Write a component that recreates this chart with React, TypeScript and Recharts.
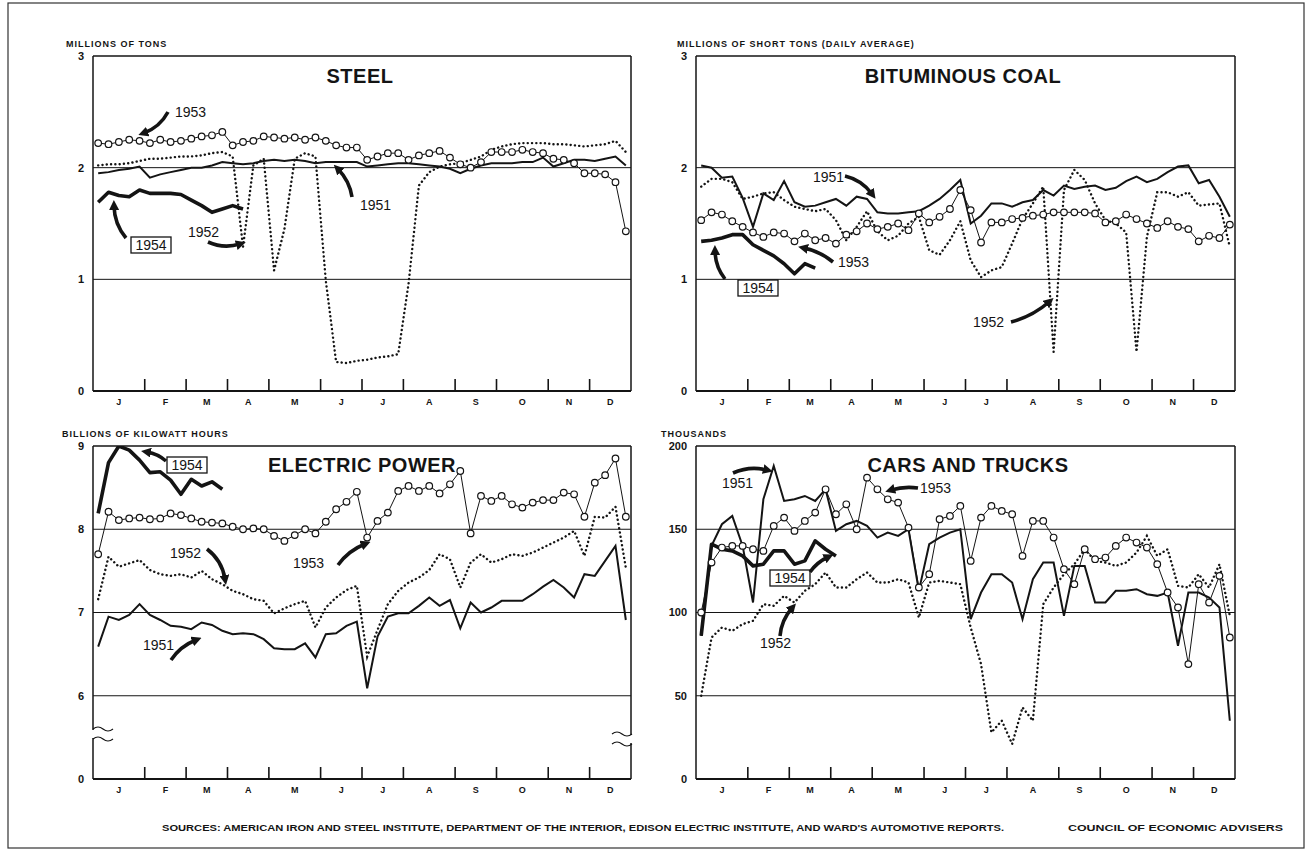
import React from 'react';
import { LineChart, Line, XAxis, YAxis, ReferenceLine } from 'recharts';

const FONT = '"Liberation Sans", Arial, sans-serif';
const INK = '#141414';

// month letters and the week where each month starts (52 weeks)
const MONTHS = ['J', 'F', 'M', 'A', 'M', 'J', 'J', 'A', 'S', 'O', 'N', 'D'];
const MONTH_STARTS = [0, 5, 9, 13, 17, 22, 26, 30, 35, 39, 44, 48, 52];
const MONTH_CENTERS = MONTHS.map((_, i) => (MONTH_STARTS[i] + MONTH_STARTS[i + 1]) / 2);
const MONTH_BOUNDS = MONTH_STARTS.slice(1, -1);
const WEEKS = Array.from({ length: 52 }, (_, i) => i + 0.5);

// STEEL, millions of tons
const steel1951 = [1.95, 1.96, 1.98, 1.99, 2.01, 1.91, 1.94, 1.96, 1.98, 2.0, 2.0, 2.02, 2.05, 2.04, 2.03, 2.04, 2.06, 2.07, 2.06, 2.07, 2.06, 2.04, 2.05, 2.05, 2.05, 2.05, 2.01, 2.02, 2.03, 2.04, 2.04, 2.03, 2.02, 2.01, 1.99, 1.95, 1.99, 2.02, 2.04, 2.04, 2.04, 2.05, 2.05, 2.09, 2.01, 2.04, 2.07, 2.07, 2.06, 2.08, 2.1, 2.02];
const steel1952 = [2.02, 2.03, 2.03, 2.04, 2.06, 2.08, 2.08, 2.09, 2.1, 2.1, 2.11, 2.13, 2.14, 2.1, 1.29, 2.02, 2.08, 1.08, 1.45, 2.08, 2.13, 2.1, 0.99, 0.26, 0.25, 0.27, 0.28, 0.3, 0.31, 0.33, 0.96, 1.84, 1.96, 2.01, 2.03, 2.04, 2.07, 2.1, 2.16, 2.19, 2.21, 2.22, 2.22, 2.22, 2.21, 2.21, 2.2, 2.19, 2.2, 2.21, 2.24, 2.14];
const steel1953 = [2.22, 2.21, 2.23, 2.25, 2.24, 2.22, 2.25, 2.23, 2.24, 2.26, 2.28, 2.29, 2.32, 2.2, 2.23, 2.24, 2.28, 2.27, 2.26, 2.27, 2.25, 2.27, 2.24, 2.2, 2.18, 2.18, 2.07, 2.1, 2.13, 2.13, 2.07, 2.11, 2.13, 2.15, 2.09, 2.03, 2.0, 2.05, 2.14, 2.14, 2.14, 2.16, 2.14, 2.13, 2.08, 2.07, 2.04, 1.95, 1.95, 1.94, 1.87, 1.43];
const steel1954 = [1.69, 1.78, 1.75, 1.74, 1.8, 1.77, 1.77, 1.77, 1.76, 1.71, 1.66, 1.6, 1.63, 1.66, 1.63];

// BITUMINOUS COAL, millions of short tons (daily average)
const coal1951 = [2.02, 2.0, 1.91, 1.92, 1.73, 1.47, 1.77, 1.71, 1.88, 1.69, 1.65, 1.66, 1.69, 1.72, 1.66, 1.74, 1.72, 1.6, 1.59, 1.59, 1.6, 1.61, 1.66, 1.72, 1.8, 1.89, 1.5, 1.57, 1.68, 1.68, 1.65, 1.69, 1.71, 1.8, 1.75, 1.84, 1.81, 1.83, 1.84, 1.8, 1.82, 1.88, 1.92, 1.87, 1.9, 1.96, 2.01, 2.02, 1.86, 1.89, 1.74, 1.56];
const coal1952 = [1.83, 1.9, 1.9, 1.87, 1.72, 1.74, 1.77, 1.78, 1.71, 1.65, 1.63, 1.61, 1.63, 1.53, 1.35, 1.47, 1.61, 1.43, 1.35, 1.39, 1.5, 1.56, 1.26, 1.22, 1.35, 1.52, 1.17, 1.02, 1.08, 1.11, 1.32, 1.54, 1.68, 1.83, 0.35, 1.8, 1.98, 1.89, 1.68, 1.53, 1.5, 1.42, 0.35, 1.38, 1.78, 1.78, 1.74, 1.78, 1.66, 1.67, 1.68, 1.29];
const coal1953 = [1.53, 1.6, 1.58, 1.52, 1.47, 1.42, 1.38, 1.42, 1.41, 1.34, 1.41, 1.35, 1.37, 1.32, 1.4, 1.43, 1.5, 1.45, 1.47, 1.5, 1.44, 1.59, 1.51, 1.56, 1.63, 1.8, 1.62, 1.33, 1.51, 1.51, 1.54, 1.55, 1.57, 1.58, 1.6, 1.6, 1.6, 1.6, 1.59, 1.51, 1.52, 1.58, 1.54, 1.5, 1.46, 1.52, 1.47, 1.45, 1.34, 1.39, 1.37, 1.49];
const coal1954 = [1.34, 1.35, 1.37, 1.4, 1.4, 1.31, 1.26, 1.21, 1.14, 1.05, 1.14, 1.1];

// ELECTRIC POWER, billions of kilowatt hours
const elec1951 = [6.59, 6.95, 6.91, 6.97, 7.1, 6.97, 6.91, 6.84, 6.83, 6.8, 6.88, 6.85, 6.78, 6.74, 6.75, 6.74, 6.68, 6.57, 6.56, 6.56, 6.63, 6.46, 6.74, 6.75, 6.84, 6.89, 6.09, 6.71, 6.95, 6.99, 6.99, 7.08, 7.18, 7.08, 7.15, 6.81, 7.12, 7.0, 7.06, 7.14, 7.14, 7.14, 7.22, 7.31, 7.39, 7.3, 7.18, 7.46, 7.44, 7.62, 7.8, 6.91];
const elec1952 = [7.16, 7.67, 7.55, 7.59, 7.63, 7.51, 7.46, 7.44, 7.46, 7.42, 7.5, 7.4, 7.34, 7.26, 7.22, 7.16, 7.14, 6.99, 7.05, 7.1, 7.14, 6.82, 7.06, 7.18, 7.27, 7.32, 6.47, 6.79, 7.1, 7.26, 7.36, 7.42, 7.51, 7.7, 7.64, 7.3, 7.6, 7.7, 7.6, 7.64, 7.7, 7.68, 7.72, 7.78, 7.84, 7.9, 7.98, 7.68, 8.15, 8.14, 8.27, 7.54];
const elec1953 = [7.7, 8.21, 8.11, 8.13, 8.14, 8.12, 8.13, 8.19, 8.17, 8.13, 8.09, 8.08, 8.07, 8.03, 8.0, 8.01, 8.0, 7.92, 7.86, 7.93, 8.0, 7.95, 8.09, 8.24, 8.33, 8.45, 7.9, 8.1, 8.2, 8.46, 8.52, 8.46, 8.52, 8.43, 8.54, 8.7, 7.95, 8.4, 8.34, 8.4, 8.3, 8.26, 8.32, 8.35, 8.35, 8.44, 8.42, 8.15, 8.56, 8.65, 8.85, 8.15];
const elec1954 = [8.19, 8.8, 9.0, 8.95, 8.83, 8.68, 8.69, 8.59, 8.42, 8.6, 8.52, 8.57, 8.48];

// CARS AND TRUCKS, thousands
const cars1951 = [86, 140, 153, 158, 140, 106, 168, 188, 167, 168, 170, 167, 174, 149, 153, 155, 152, 145, 148, 146, 150, 113, 141, 145, 148, 150, 96, 112, 123, 123, 118, 96, 120, 130, 130, 98, 128, 128, 106, 106, 113, 113, 114, 111, 110, 112, 80, 112, 112, 109, 103, 35];
const cars1952 = [50, 85, 91, 89, 93, 95, 105, 104, 110, 106, 113, 117, 124, 115, 115, 120, 124, 118, 118, 120, 118, 97, 118, 119, 118, 117, 91, 69, 28, 35, 21, 43, 35, 105, 115, 123, 129, 138, 131, 130, 128, 130, 136, 146, 134, 138, 116, 115, 123, 115, 129, 98];
const cars1953 = [100, 130, 139, 140, 140, 138, 137, 152, 157, 149, 155, 160, 174, 159, 165, 150, 181, 174, 168, 166, 151, 115, 123, 156, 158, 164, 131, 157, 164, 161, 159, 134, 155, 155, 145, 126, 117, 138, 132, 133, 140, 145, 142, 139, 129, 112, 103, 69, 117, 106, 122, 85];
const cars1954 = [86, 141, 138, 137, 134, 128, 129, 137, 137, 129, 131, 143, 138, 134];

type Margin = { top: number; right: number; bottom: number; left: number };

type PanelProps = {
  left: number;
  top: number;
  width: number;
  height: number;
  margin: Margin;
  s51: number[];
  s52: number[];
  s53: number[];
  s54: number[];
  domain: [number, number];
  yTicks: number[];
  yFmt?: (v: number) => string;
};

const X_AXIS_H = 20;
const MONTH_TICK_PX = 12;

function Panel(p: PanelProps) {
  const rows = WEEKS.map((w, i) => ({ w, y51: p.s51[i], y52: p.s52[i], y53: p.s53[i], y54: p.s54[i] }));
  const tickStyle = { fontSize: 11, fontWeight: 700, fill: INK, fontFamily: FONT };
  const [lo, hi] = p.domain;
  const grid = p.yTicks.filter((t) => t > lo);
  const plotH = p.height - p.margin.top - p.margin.bottom - X_AXIS_H;
  const tickLen = ((hi - lo) * MONTH_TICK_PX) / plotH;

  return (
    <div style={{ position: 'absolute', left: p.left, top: p.top }}>
      <LineChart width={p.width} height={p.height} data={rows} margin={p.margin}>
        <XAxis
          xAxisId="m"
          dataKey="w"
          type="number"
          domain={[0, 52]}
          ticks={MONTH_CENTERS}
          interval={0}
          allowDataOverflow
          height={X_AXIS_H}
          tickLine={false}
          axisLine={{ stroke: INK, strokeWidth: 2 }}
          tickFormatter={(v: number) => MONTHS[MONTH_CENTERS.indexOf(v)] ?? ''}
          tick={{ fontSize: 9, fontWeight: 700, fill: INK, fontFamily: FONT }}
        />
        <YAxis
          type="number"
          domain={p.domain}
          ticks={p.yTicks}
          interval={0}
          allowDataOverflow
          width={30}
          tickLine={false}
          tickMargin={3}
          axisLine={{ stroke: INK, strokeWidth: 1.5 }}
          tick={tickStyle}
          tickFormatter={p.yFmt ?? ((v: number) => String(v))}
        />
        {grid.map((g) => (
          <ReferenceLine key={g} xAxisId="m" y={g} stroke={INK} strokeWidth={g === hi ? 1.5 : 1} />
        ))}
        <ReferenceLine xAxisId="m" x={52} stroke={INK} strokeWidth={1.5} />
        {MONTH_BOUNDS.map((b) => (
          <ReferenceLine
            key={`mb${b}`}
            xAxisId="m"
            segment={[{ x: b, y: lo }, { x: b, y: lo + tickLen }]}
            stroke={INK}
            strokeWidth={1.6}
          />
        ))}

        <Line
          xAxisId="m"
          dataKey="y52"
          type="linear"
          stroke={INK}
          strokeWidth={2.4}
          strokeDasharray="0.1 4.2"
          strokeLinecap="round"
          dot={false}
          activeDot={false}
          isAnimationActive={false}
        />
        <Line
          xAxisId="m"
          dataKey="y51"
          type="linear"
          stroke={INK}
          strokeWidth={2}
          dot={false}
          activeDot={false}
          isAnimationActive={false}
        />
        <Line
          xAxisId="m"
          dataKey="y53"
          type="linear"
          stroke={INK}
          strokeWidth={1}
          dot={{ r: 3.3, fill: '#fff', stroke: INK, strokeWidth: 1.2 }}
          activeDot={false}
          isAnimationActive={false}
        />
        <Line
          xAxisId="m"
          dataKey="y54"
          type="linear"
          stroke={INK}
          strokeWidth={3.6}
          strokeLinejoin="round"
          dot={false}
          activeDot={false}
          isAnimationActive={false}
        />
      </LineChart>
    </div>
  );
}

// annotation labels and arrows (page pixels)
const yearLabels = [
  { x: 175, y: 117, t: '1953' },
  { x: 188, y: 237, t: '1952' },
  { x: 360, y: 210, t: '1951' },
  { x: 813, y: 182, t: '1951' },
  { x: 838, y: 267, t: '1953' },
  { x: 973, y: 327, t: '1952' },
  { x: 170, y: 558, t: '1952' },
  { x: 293, y: 568, t: '1953' },
  { x: 143, y: 650, t: '1951' },
  { x: 722, y: 488, t: '1951' },
  { x: 920, y: 493, t: '1953' },
  { x: 760, y: 648, t: '1952' },
];
const boxedLabels = [
  { cx: 151, cy: 245 },
  { cx: 758, cy: 288 },
  { cx: 187, cy: 465 },
  { cx: 790, cy: 578 },
];
const arrows = [
  { a: [168, 112], b: [144, 133], bend: -6 },
  { a: [126, 238], b: [114, 206], bend: -6 },
  { a: [208, 242], b: [240, 244], bend: 6 },
  { a: [352, 197], b: [338, 169], bend: 5 },
  { a: [845, 176], b: [872, 194], bend: -6 },
  { a: [833, 262], b: [804, 248], bend: 4 },
  { a: [725, 279], b: [715, 251], bend: -5 },
  { a: [1011, 322], b: [1049, 302], bend: 5 },
  { a: [166, 461], b: [147, 452], bend: 3 },
  { a: [207, 549], b: [225, 579], bend: -7 },
  { a: [338, 565], b: [365, 544], bend: -5 },
  { a: [171, 660], b: [196, 640], bend: -5 },
  { a: [733, 473], b: [767, 470], bend: -6 },
  { a: [918, 488], b: [891, 490], bend: 3 },
  { a: [810, 572], b: [828, 557], bend: -3 },
  { a: [780, 636], b: [792, 608], bend: -5 },
];

function arrowPath(a: number[], b: number[], bend: number) {
  const mx = (a[0] + b[0]) / 2;
  const my = (a[1] + b[1]) / 2;
  const dx = b[0] - a[0];
  const dy = b[1] - a[1];
  const len = Math.hypot(dx, dy) || 1;
  const cx = mx + (-dy / len) * bend;
  const cy = my + (dx / len) * bend;
  return `M${a[0]},${a[1]} Q${cx},${cy} ${b[0]},${b[1]}`;
}

function Overlay() {
  const txt = { fontFamily: FONT, fill: INK };
  return (
    <svg
      width={1307}
      height={854}
      style={{ position: 'absolute', left: 0, top: 0, pointerEvents: 'none' }}
    >
      <defs>
        <marker id="ah" viewBox="0 0 10 10" refX="4" refY="5" markerWidth="10" markerHeight="10" markerUnits="userSpaceOnUse" orient="auto">
          <path d="M0,0 L10,5 L0,10 z" fill={INK} />
        </marker>
      </defs>
      <rect x={8} y={3} width={1296} height={845} fill="none" stroke="#333" strokeWidth={1.2} />

      <text x={66} y={47} {...txt} fontSize={9} fontWeight={700} letterSpacing={1}>MILLIONS OF TONS</text>
      <text x={677} y={47} {...txt} fontSize={9} fontWeight={700} letterSpacing={1}>MILLIONS OF SHORT TONS (DAILY AVERAGE)</text>
      <text x={62} y={437} {...txt} fontSize={9} fontWeight={700} letterSpacing={1}>BILLIONS OF KILOWATT HOURS</text>
      <text x={661} y={437} {...txt} fontSize={9} fontWeight={700} letterSpacing={1}>THOUSANDS</text>

      <text x={360} y={83} {...txt} fontSize={20} fontWeight={700} textAnchor="middle" letterSpacing={0.5}>STEEL</text>
      <text x={963} y={83} {...txt} fontSize={20} fontWeight={700} textAnchor="middle" letterSpacing={0.5}>BITUMINOUS COAL</text>
      <text x={362} y={472} {...txt} fontSize={20} fontWeight={700} textAnchor="middle" letterSpacing={0.5}>ELECTRIC POWER</text>
      <text x={968} y={472} {...txt} fontSize={20} fontWeight={700} textAnchor="middle" letterSpacing={0.5}>CARS AND TRUCKS</text>

      {yearLabels.map((l, i) => (
        <text key={i} x={l.x} y={l.y} {...txt} fontSize={14}>{l.t}</text>
      ))}
      {boxedLabels.map((l, i) => (
        <g key={i}>
          <rect x={l.cx - 20} y={l.cy - 8} width={40} height={16} fill="#fff" stroke={INK} strokeWidth={1.3} />
          <text x={l.cx} y={l.cy + 5} {...txt} fontSize={14} textAnchor="middle">1954</text>
        </g>
      ))}
      {arrows.map((r, i) => (
        <path key={i} d={arrowPath(r.a, r.b, r.bend)} fill="none" stroke={INK} strokeWidth={3.6} markerEnd="url(#ah)" />
      ))}

      {/* scale breaks on the electric power panel */}
      <rect x={89} y={730} width={8} height={8} fill="#fff" />
      <path d="M93,729 q5,-4 10,0 t10,0 M93,739 q5,-4 10,0 t10,0" fill="none" stroke={INK} strokeWidth={1.2} />
      <rect x={627} y={735} width={8} height={8} fill="#fff" />
      <path d="M612,734 q5,-4 10,0 t10,0 M612,744 q5,-4 10,0 t10,0" fill="none" stroke={INK} strokeWidth={1.2} />

      <text x={162} y={831} {...txt} fontSize={9} fontWeight={700} textLength={842} lengthAdjust="spacingAndGlyphs">
        SOURCES: AMERICAN IRON AND STEEL INSTITUTE, DEPARTMENT OF THE INTERIOR, EDISON ELECTRIC INSTITUTE, AND WARD'S AUTOMOTIVE REPORTS.
      </text>
      <text x={1068} y={831} {...txt} fontSize={9} fontWeight={700} textLength={215} lengthAdjust="spacingAndGlyphs">
        COUNCIL OF ECONOMIC ADVISERS
      </text>
    </svg>
  );
}

export default function App() {
  const top = { top: 26, right: 39, bottom: 19, left: 43 };
  const topR = { top: 26, right: 45, bottom: 19, left: 26 };
  const bot = { top: 26, right: 39, bottom: 21, left: 43 };
  const botR = { top: 26, right: 45, bottom: 21, left: 26 };
  return (
    <div style={{ position: 'absolute', left: 0, top: 0, width: 1307, height: 854, background: '#fff', fontFamily: FONT }}>
      <Panel left={20} top={30} width={650} height={400} margin={top} s51={steel1951} s52={steel1952} s53={steel1953} s54={steel1954} domain={[0, 3]} yTicks={[0, 1, 2, 3]} />
      <Panel left={640} top={30} width={640} height={400} margin={topR} s51={coal1951} s52={coal1952} s53={coal1953} s54={coal1954} domain={[0, 3]} yTicks={[0, 1, 2, 3]} />
      <Panel
        left={20}
        top={420}
        width={650}
        height={400}
        margin={bot}
        s51={elec1951}
        s52={elec1952}
        s53={elec1953}
        s54={elec1954}
        domain={[5, 9]}
        yTicks={[5, 6, 7, 8, 9]}
        yFmt={(v) => (v === 5 ? '0' : String(v))}
      />
      <Panel left={640} top={420} width={640} height={400} margin={botR} s51={cars1951} s52={cars1952} s53={cars1953} s54={cars1954} domain={[0, 200]} yTicks={[0, 50, 100, 150, 200]} />
      <Overlay />
    </div>
  );
}
